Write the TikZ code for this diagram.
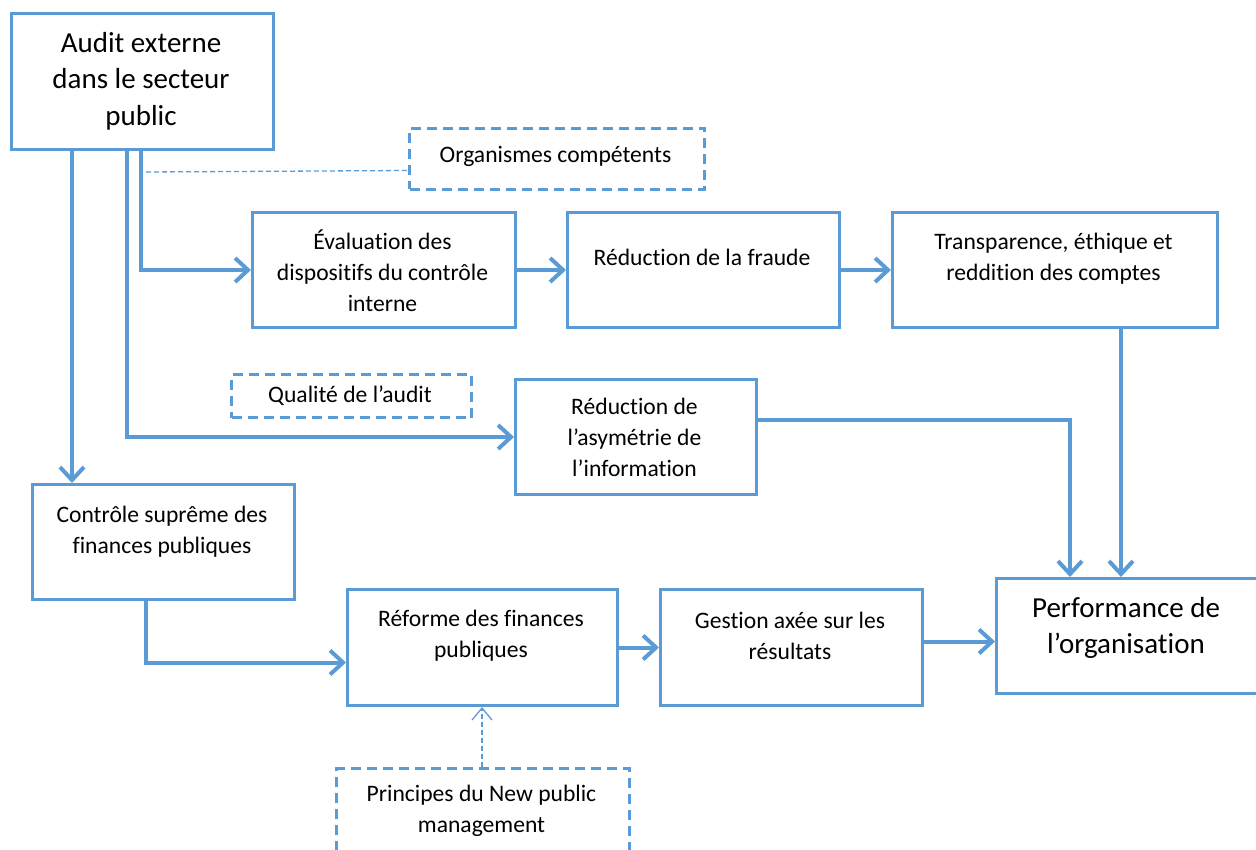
\documentclass[tikz,border=0pt]{standalone}
\usepackage{fontspec}
\setmainfont[Ligatures=NoCommon]{Carlito}
\usetikzlibrary{arrows.meta}
\definecolor{ob}{HTML}{5B9BD5}
\begin{document}
\begin{tikzpicture}[x=1pt,y=-1pt,
 box/.style={draw=ob, line width=3pt, fill=white, anchor=north west, inner sep=0pt},
 dbox/.style={box, dash pattern=on 10pt off 6pt},
 txt/.style={align=center, font=\fontsize{23.6}{31}\selectfont, inner sep=0pt},
 big/.style={align=center, font=\fontsize{29}{36.5}\selectfont, inner sep=0pt},
 conn/.style={draw=ob, line width=4pt, -{Straight Barb[length=13pt,width=24pt]}},
 thin/.style={draw=ob, line width=1.3pt, dash pattern=on 5pt off 3pt},
]
\useasboundingbox (0,0) rectangle (1256,850);
% boxes
\node[box, minimum width=262pt, minimum height=136pt] (audit) at (10,12) {};
\node[dbox, minimum width=295pt, minimum height=61pt] (org) at (408,127) {};
\node[box, minimum width=263pt, minimum height=115pt] (eval) at (251,211) {};
\node[box, minimum width=272pt, minimum height=115pt] (fraude) at (566,211) {};
\node[box, minimum width=325pt, minimum height=115pt] (transp) at (891,211) {};
\node[dbox, minimum width=240pt, minimum height=43pt] (qual) at (230,373) {};
\node[box, minimum width=241pt, minimum height=115pt] (asym) at (514,378) {};
\node[box, minimum width=262pt, minimum height=115pt] (ctrl) at (31,483) {};
\node[box, minimum width=270pt, minimum height=116pt] (reforme) at (346,588) {};
\node[box, minimum width=262pt, minimum height=116pt] (gestion) at (659,588) {};
\node[box, minimum width=275pt, minimum height=115pt] (perf) at (995,577) {};
\node[dbox, minimum width=293pt, minimum height=110pt] (princ) at (335,767) {};
% texts
\node[big] (audit-t) at (141,81) {Audit externe\\dans le secteur\\public};
\node[txt] (org-t) at (555.5,156) {Organismes compétents};
\node[txt] (eval-t) at (382.5,271) {Évaluation des\\dispositifs du contrôle\\interne};
\node[txt] (fraude-t) at (702,257) {Réduction de la fraude};
\node[txt] (transp-t) at (1053.5,259) {Transparence, éthique et\\reddition des comptes};
\node[txt] (qual-t) at (350,396) {Qualité de l’audit};
\node[txt] (asym-t) at (634.5,437) {Réduction de\\l’asymétrie de\\l’information};
\node[txt] (ctrl-t) at (162,532) {Contrôle suprême des\\finances publiques};
\node[txt] (reforme-t) at (481,636) {Réforme des finances\\publiques};
\node[txt] (gestion-t) at (790,636) {Gestion axée sur les\\résultats};
\node[big] (perf-t) at (1126,628) {Performance de\\l’organisation};
\node[txt] (princ-t) at (481.5,811) {Principes du New public\\management};
% connectors
\draw[conn] ([xshift=62pt]audit.south west) -- ([xshift=41pt]ctrl.north west);
\draw[conn] ([xshift=117pt]audit.south west) |- (asym.west);
\draw[conn] ([xshift=131pt]audit.south west) |- (eval.west);
\draw[thin] ([xshift=136pt,yshift=-21pt]audit.south west) -- ([yshift=-11.5pt]org.west);
\draw[conn] (eval.east) -- (fraude.west);
\draw[conn] (fraude.east) -- (transp.west);
\draw[conn] ([xshift=230pt]transp.south west) -- ([xshift=126pt]perf.north west);
\draw[conn] ([yshift=-42pt]asym.north east) -| ([xshift=75pt]perf.north west);
\draw[conn] ([xshift=115pt]ctrl.south west) |- ([yshift=-15pt]reforme.west);
\draw[conn] (reforme.east) -- (gestion.west);
\draw[conn] ([yshift=6pt]gestion.east) -- ([yshift=-5.5pt]perf.west);
\draw[thin, -{Straight Barb[length=12pt,width=20pt,line width=1.3pt]}] ([xshift=147pt]princ.north west) -- ([xshift=136pt]reforme.south west);
\end{tikzpicture}
\end{document}
